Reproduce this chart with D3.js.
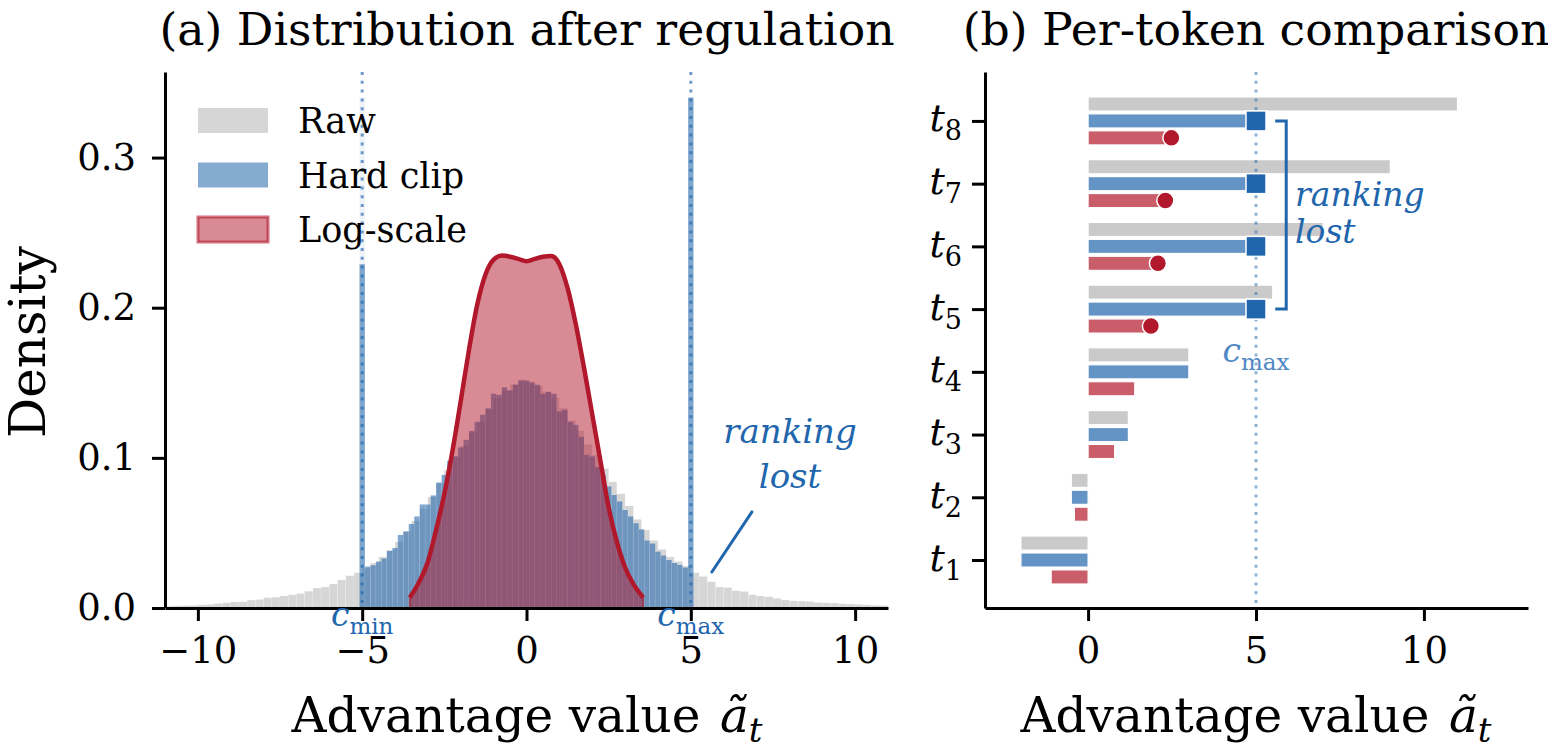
<!DOCTYPE html>
<html>
<head>
<meta charset="utf-8">
<script src="https://cdn.jsdelivr.net/npm/d3@7"></script>
<style>
body { margin: 0; background: #fff; }
text { font-family: "DejaVu Serif", serif; }
</style>
</head>
<body>
<svg id="chart" width="1548" height="755"></svg>
<script>
// ---- panel (a) data ----
const rawBinStart = -11;
const rawBinWidth = 0.25;
const rawDensity = [
  0.0012, 0.0014, 0.0016, 0.0018, 0.0021, 0.0024, 0.0030, 0.0035, 0.0040, 0.0042,
  0.0053, 0.0056, 0.0069, 0.0072, 0.0080, 0.0088, 0.0096, 0.0112, 0.0133, 0.0140,
  0.0160, 0.0187, 0.0215, 0.0235, 0.0265, 0.0300, 0.0340, 0.0385, 0.0440, 0.0510,
  0.0580, 0.0660, 0.0740, 0.0830, 0.0920, 0.1010, 0.1080, 0.1170, 0.1240, 0.1320,
  0.1400, 0.1450, 0.1490, 0.1520, 0.1510, 0.1480, 0.1440, 0.1400, 0.1330, 0.1250,
  0.1180, 0.1090, 0.1020, 0.0930, 0.0840, 0.0760, 0.0680, 0.0590, 0.0520, 0.0450,
  0.0390, 0.0340, 0.0310, 0.0280, 0.0235, 0.0210, 0.0175, 0.0140, 0.0136, 0.0115,
  0.0110, 0.0088, 0.0080, 0.0075, 0.0064, 0.0053, 0.0048, 0.0046, 0.0044, 0.0037,
  0.0035, 0.0033, 0.0028, 0.0026, 0.0024, 0.0021, 0.0018, 0.0016
];

// hard clip histogram, bins centred on -5, -5+1/6, ..., 5
const clipBinWidth = 1 / 6;
const clipDensity = [
  0.229, 0.0276, 0.0285, 0.0310, 0.0330, 0.0380, 0.0400, 0.0487, 0.0510, 0.0560,
  0.0610, 0.0690, 0.0690, 0.0750, 0.0836, 0.0887, 0.0980, 0.1010, 0.1070, 0.1120,
  0.1180, 0.1240, 0.1287, 0.1330, 0.1427, 0.1420, 0.1470, 0.1450, 0.1487, 0.1515,
  0.1515,
  0.1500, 0.1487, 0.1427, 0.1440, 0.1427, 0.1310, 0.1320, 0.1240, 0.1220, 0.1140,
  0.1020, 0.1010, 0.0940, 0.0887, 0.0810, 0.0753, 0.0710, 0.0653, 0.0610, 0.0565,
  0.0524, 0.0450, 0.0430, 0.0376, 0.0350, 0.0320, 0.0300, 0.0287, 0.0270, 0.340
];
const clipGhostTop = 0.34;

// log-scale density curve
const logX = [-3.55, -3.3, -3.0, -2.75, -2.5, -2.25, -2.0, -1.75, -1.5, -1.25, -1.0, -0.75, -0.5, -0.25,
  0, 0.25, 0.5, 0.75, 1.0, 1.25, 1.5, 1.75, 2.0, 2.25, 2.5, 2.75, 3.0, 3.25, 3.55];
const logY = [0.007, 0.016, 0.031, 0.052, 0.076, 0.105, 0.138, 0.172, 0.202, 0.222, 0.232, 0.2347, 0.234, 0.2325,
  0.231, 0.2325, 0.234, 0.2345, 0.229, 0.213, 0.189, 0.160, 0.129, 0.098, 0.067, 0.044, 0.027, 0.016, 0.007];

const cMin = -5;
const cMax = 5;
const xTicksA = [-10, -5, 0, 5, 10];
const yTicksA = [0, 0.1, 0.2, 0.3];
const legendLabels = ["Raw", "Hard clip", "Log-scale"];

// ---- panel (b) data ----
const tokens = ["1", "2", "3", "4", "5", "6", "7", "8"];
const tokRaw = [-2.0, -0.5, 1.2, 3.0, 5.5, 7.0, 9.0, 11.0];
const tokClip = [-2.0, -0.5, 1.2, 3.0, 5.0, 5.0, 5.0, 5.0];
const tokLog = [-1.10, -0.41, 0.79, 1.39, 1.87, 2.08, 2.30, 2.48];
const xTicksB = [0, 5, 10];

const BLUE = "#2166ac";
const RED = "#b2182b";
const FONT = "DejaVu Serif";

const svg = d3.select("#chart");

function styleAxis(g, size) {
  g.attr("font-family", FONT).attr("font-size", size);
  g.select(".domain").attr("stroke", "#000").attr("stroke-width", 3);
  g.selectAll(".tick line").attr("stroke", "#000").attr("stroke-width", 3);
  g.selectAll(".tick text").attr("fill", "#000");
}

function xLabel(g, cx) {
  const t = g.append("text")
    .attr("x", cx).attr("y", 732)
    .attr("text-anchor", "middle")
    .attr("font-size", 48.5);
  t.append("tspan").text("Advantage value ");
  t.append("tspan").attr("font-style", "italic").attr("dx", 4).text("ã");
  t.append("tspan").attr("font-style", "italic").attr("font-size", 34).attr("dy", 10).text("t");
}

// ================= panel (a) =================
const xA = d3.scaleLinear().domain([-11, 11]).range([165, 888]);
const yA = d3.scaleLinear().domain([0, 0.357]).range([608, 72]);

const gA = svg.append("g");

gA.append("g")
  .selectAll("rect")
  .data(rawDensity)
  .join("rect")
  .attr("x", (d, i) => xA(rawBinStart + i * rawBinWidth))
  .attr("width", xA(rawBinWidth) - xA(0))
  .attr("y", d => yA(d))
  .attr("height", d => yA(0) - yA(d))
  .attr("fill", "#d6d6d6")
  .attr("stroke", "#fff")
  .attr("stroke-opacity", 0.3)
  .attr("stroke-width", 0.5);

// faint column above the lower clip spike
gA.append("rect")
  .attr("x", xA(cMin - clipBinWidth / 2))
  .attr("width", xA(clipBinWidth) - xA(0))
  .attr("y", yA(clipGhostTop))
  .attr("height", yA(clipDensity[0]) - yA(clipGhostTop))
  .attr("fill", BLUE)
  .attr("opacity", 0.07);

gA.append("g")
  .selectAll("rect")
  .data(clipDensity)
  .join("rect")
  .attr("x", (d, i) => xA(cMin + (i - 0.5) * clipBinWidth))
  .attr("width", xA(clipBinWidth) - xA(0))
  .attr("y", d => yA(d))
  .attr("height", d => yA(0) - yA(d))
  .attr("fill", BLUE)
  .attr("fill-opacity", 0.58)
  .attr("stroke", "#fff")
  .attr("stroke-opacity", 0.15)
  .attr("stroke-width", 0.6);

const logPts = logX.map((x, i) => [x, logY[i]]);

gA.append("path")
  .datum(logPts)
  .attr("d", d3.area()
    .x(d => xA(d[0]))
    .y0(yA(0))
    .y1(d => yA(d[1]))
    .curve(d3.curveMonotoneX))
  .attr("fill", RED)
  .attr("fill-opacity", 0.5)
  .attr("stroke", RED)
  .attr("stroke-opacity", 0.6)
  .attr("stroke-width", 2);

gA.append("path")
  .datum(logPts)
  .attr("d", d3.line()
    .x(d => xA(d[0]))
    .y(d => yA(d[1]))
    .curve(d3.curveMonotoneX))
  .attr("fill", "none")
  .attr("stroke", RED)
  .attr("stroke-width", 4.5);

gA.selectAll("line.clip")
  .data([cMin, cMax])
  .join("line")
  .attr("class", "clip")
  .attr("x1", d => xA(d))
  .attr("x2", d => xA(d))
  .attr("y1", yA.range()[1])
  .attr("y2", yA(0))
  .attr("stroke", BLUE)
  .attr("stroke-opacity", 0.65)
  .attr("stroke-width", 3)
  .attr("stroke-dasharray", "3,5.8");

gA.append("g")
  .attr("transform", "translate(0,608)")
  .call(d3.axisBottom(xA).tickValues(xTicksA).tickSize(13).tickSizeOuter(0).tickPadding(16))
  .call(g => styleAxis(g, 37));

gA.append("g")
  .attr("transform", "translate(165,0)")
  .call(d3.axisLeft(yA).tickValues(yTicksA).tickFormat(d3.format(".1f")).tickSize(13).tickSizeOuter(0).tickPadding(16))
  .call(g => styleAxis(g, 37));

// c_min / c_max labels
[[cMin, "min"], [cMax, "max"]].forEach(([v, sub]) => {
  const t = gA.append("text")
    .attr("x", xA(v))
    .attr("y", 626)
    .attr("text-anchor", "middle")
    .attr("fill", BLUE);
  t.append("tspan").attr("font-style", "italic").attr("font-size", 33).text("c");
  t.append("tspan").attr("font-size", 23).attr("dy", 8).text(sub);
});

// annotation
gA.append("line")
  .attr("x1", xA(6.86)).attr("y1", yA(0.064))
  .attr("x2", xA(5.64)).attr("y2", yA(0.024))
  .attr("stroke", BLUE)
  .attr("stroke-width", 3)
  .attr("stroke-linecap", "round");

gA.append("text")
  .attr("x", 790)
  .attr("y", 443)
  .attr("text-anchor", "middle")
  .attr("font-style", "italic")
  .attr("font-size", 34)
  .attr("fill", BLUE)
  .selectAll("tspan")
  .data(["ranking", "lost"])
  .join("tspan")
  .attr("x", 790)
  .attr("dy", (d, i) => i === 0 ? 0 : 45)
  .text(d => d);

// legend
const legend = gA.append("g");
const legendStyles = [
  { fill: "#d6d6d6", opacity: 1, stroke: "none" },
  { fill: BLUE, opacity: 0.55, stroke: "none" },
  { fill: RED, opacity: 0.5, stroke: RED }
];
legendLabels.forEach((lab, i) => {
  const y0 = 108 + i * 54.5;
  const st = legendStyles[i];
  legend.append("rect")
    .attr("x", 198).attr("y", y0)
    .attr("width", 70).attr("height", 25)
    .attr("fill", st.fill)
    .attr("fill-opacity", st.opacity)
    .attr("stroke", st.stroke)
    .attr("stroke-opacity", 0.6)
    .attr("stroke-width", 3);
  legend.append("text")
    .attr("x", 298).attr("y", y0 + 25)
    .attr("font-size", 35)
    .text(lab);
});

gA.append("text")
  .attr("x", 527).attr("y", 45)
  .attr("text-anchor", "middle")
  .attr("font-size", 45.7)
  .text("(a) Distribution after regulation");

xLabel(gA, 527);

gA.append("text")
  .attr("transform", "translate(45,342) rotate(-90)")
  .attr("text-anchor", "middle")
  .attr("font-size", 50)
  .text("Density");

// ================= panel (b) =================
const xB = d3.scaleLinear().domain([-3.07, 13.1]).range([985, 1528]);
const yB = d3.scaleLinear().domain([0.235, 8.78]).range([608, 72]);
const barH = yB(0) - yB(0.225);
const series = [
  { vals: tokRaw, off: 0.27, fill: "#bdbdbd", op: 0.8 },
  { vals: tokClip, off: 0, fill: BLUE, op: 0.7 },
  { vals: tokLog, off: -0.27, fill: RED, op: 0.7 }
];

const gB = svg.append("g");

series.forEach(s => {
  gB.append("g")
    .selectAll("rect")
    .data(s.vals)
    .join("rect")
    .attr("x", d => xB(Math.min(0, d)))
    .attr("width", d => Math.abs(xB(d) - xB(0)))
    .attr("y", (d, i) => yB(i + 1 + s.off) - barH / 2)
    .attr("height", barH)
    .attr("fill", s.fill)
    .attr("fill-opacity", s.op)
    .attr("stroke", "#fff")
    .attr("stroke-width", 1.2);
});

gB.append("line")
  .attr("x1", xB(cMax)).attr("x2", xB(cMax))
  .attr("y1", 72).attr("y2", 608)
  .attr("stroke", BLUE)
  .attr("stroke-opacity", 0.5)
  .attr("stroke-width", 3)
  .attr("stroke-dasharray", "3,5.8");

const clipped = tokRaw.map((v, i) => ({ i, v, clip: tokClip[i], log: tokLog[i] })).filter(d => d.v > cMax);

gB.selectAll("rect.sq")
  .data(clipped)
  .join("rect")
  .attr("class", "sq")
  .attr("x", d => xB(d.clip) - 10)
  .attr("y", d => yB(d.i + 1) - 10)
  .attr("width", 20).attr("height", 20)
  .attr("fill", BLUE)
  .attr("stroke", "#fff")
  .attr("stroke-width", 1.5);

gB.selectAll("circle.dot")
  .data(clipped)
  .join("circle")
  .attr("class", "dot")
  .attr("cx", d => xB(d.log))
  .attr("cy", d => yB(d.i + 1 - 0.27))
  .attr("r", 8.5)
  .attr("fill", RED)
  .attr("stroke", "#fff")
  .attr("stroke-width", 1.5);

// bracket
const bx = xB(5.9);
const bTop = yB(d3.max(clipped, d => d.i) + 1);
const bBot = yB(d3.min(clipped, d => d.i) + 1);
gB.append("path")
  .attr("d", `M${bx - 11},${bTop} H${bx} V${bBot} H${bx - 11}`)
  .attr("fill", "none")
  .attr("stroke", BLUE)
  .attr("stroke-width", 3);

gB.append("text")
  .attr("font-style", "italic")
  .attr("font-size", 33)
  .attr("fill", BLUE)
  .selectAll("tspan")
  .data(["ranking", "lost"])
  .join("tspan")
  .attr("x", 1295)
  .attr("y", (d, i) => 206 + i * 37)
  .text(d => d);

const cLab = gB.append("text")
  .attr("x", xB(cMax))
  .attr("y", 362)
  .attr("text-anchor", "middle")
  .attr("fill", "#4f87c3");
cLab.append("tspan").attr("font-style", "italic").attr("font-size", 33).text("c");
cLab.append("tspan").attr("font-size", 23).attr("dy", 8).text("max");

gB.append("g")
  .attr("transform", "translate(0,608)")
  .call(d3.axisBottom(xB).tickValues(xTicksB).tickSize(13).tickSizeOuter(0).tickPadding(16))
  .call(g => styleAxis(g, 37));

const yAxisB = gB.append("g")
  .attr("transform", "translate(985,0)")
  .call(d3.axisLeft(yB).tickValues(d3.range(1, tokens.length + 1)).tickFormat("").tickSize(13).tickSizeOuter(0))
  .call(g => styleAxis(g, 37));

yAxisB.selectAll(".tick").each(function(d) {
  const t = d3.select(this).append("text")
    .attr("x", -23)
    .attr("y", 10)
    .attr("text-anchor", "end")
    .attr("fill", "#000")
    .attr("font-size", 38);
  t.append("tspan").attr("font-style", "italic").text("t");
  t.append("tspan").attr("font-size", 27).attr("dy", 9).text(tokens[d - 1]);
});

gB.append("text")
  .attr("x", 1256).attr("y", 45)
  .attr("text-anchor", "middle")
  .attr("font-size", 45.7)
  .text("(b) Per-token comparison");

xLabel(gB, 1256);
</script>
</body>
</html>
